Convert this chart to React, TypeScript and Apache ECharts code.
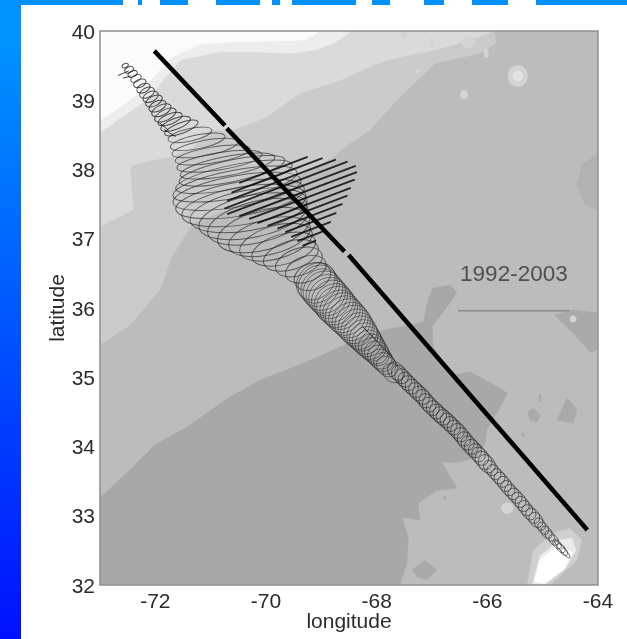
import React, { useEffect, useRef } from "react";
import * as echarts from "echarts";

const lonTicks = [-72, -70, -68, -66, -64];
const latTicks = [32, 33, 34, 35, 36, 37, 38, 39, 40];
const periodLabel = "1992-2003";

// Bathymetry contours, lon / lat, lightest at the top-left
const contourShelf = [[-73,40],[-65.88,40],[-65.84,39.83],[-66.13,39.68],[-66.93,39.54],[-67.58,39.05],[-68.12,38.57],[-68.48,38.38],[-68.79,38.18],[-70.02,37.63],[-71.32,37.23],[-71.55,36.94],[-71.73,36.69],[-71.92,36.26],[-72.46,35.75],[-73,35.47]];
const contourSlope = [[-73,40],[-65.88,40],[-66.31,39.87],[-66.93,39.73],[-67.43,39.65],[-67.94,39.55],[-68.66,39.29],[-69.39,39.10],[-69.98,38.76],[-70.60,38.57],[-71.01,38.57],[-71.32,38.32],[-71.73,38.18],[-72.22,38.11],[-72.46,38.04],[-72.40,37.42],[-72.96,37.20],[-73,37.18]];
const contourCoast = [[-73,40],[-68.45,40],[-68.74,39.84],[-69.10,39.73],[-69.53,39.68],[-70.25,39.70],[-70.83,39.70],[-71.55,39.58],[-71.83,39.32],[-72.10,39.03],[-72.64,38.74],[-73,38.53]];
const contourLand = [[-73,40],[-69.02,40],[-69.30,39.87],[-70.65,39.84],[-71.19,39.81],[-71.73,39.61],[-71.95,39.41],[-72.22,39.15],[-72.64,38.90],[-73,38.71]];
const contourDeep = [[-73,33.26],[-72.46,33.66],[-72.01,34.02],[-71.37,34.31],[-70.74,34.67],[-70.11,34.96],[-69.39,35.18],[-68.79,35.39],[-68.48,35.51],[-67.89,35.68],[-67.40,35.75],[-67.16,35.80],[-67.07,36.12],[-66.98,36.29],[-66.67,36.33],[-66.55,36.22],[-66.73,36.01],[-67.00,35.73],[-66.98,35.44],[-66.62,35.03],[-66.31,35.08],[-65.95,34.92],[-65.63,34.77],[-65.83,34.48],[-66.01,34.24],[-66.04,34.05],[-66.19,33.85],[-66.55,33.76],[-66.82,33.78],[-66.67,33.56],[-66.55,33.40],[-66.91,33.37],[-67.25,33.18],[-67.22,32.94],[-67.54,32.98],[-67.43,32.69],[-67.45,32.32],[-67.58,32],[-73,32]];
const patchEast = [[-64.78,35.90],[-64.45,35.97],[-64.02,35.93],[-64.02,35.39],[-64.14,35.36],[-64.38,35.58],[-64.63,35.78]];
const patchMid = [[-64.74,34.38],[-64.56,34.71],[-64.38,34.53],[-64.45,34.34]];
const patchSmall = [[-65.27,34.50],[-65.17,34.56],[-65.05,34.45],[-65.10,34.35],[-65.23,34.38]];
const patchSouth = [[-67.36,32.22],[-67.13,32.36],[-66.91,32.22],[-67.09,32.07],[-67.27,32.12]];
const patchNorthEast = [[-64.02,38.21],[-64.29,38.07],[-64.38,37.78],[-64.24,37.49],[-64.02,37.42]];
const bermudaOuter = [[-65.28,32],[-65.17,32.50],[-64.81,32.75],[-64.51,32.82],[-64.29,32.65],[-64.38,32.36],[-64.63,32.17],[-64.87,32]];
const bermudaMid = [[-65.19,32],[-65.05,32.42],[-64.69,32.65],[-64.47,32.68],[-64.40,32.50],[-64.58,32.25],[-64.96,32]];
const bermudaInner = [[-65.15,32.05],[-65.05,32.36],[-64.72,32.58],[-64.46,32.47],[-64.62,32.22],[-64.98,32.02]];

// Seamount spots: lon, lat, radius in lon, radius in lat
const spotsMid = [[-65.45,39.35,0.18,0.16],[-66.35,39.84,0.11,0.09],[-67.00,39.84,0.05,0.07],[-67.51,39.94,0.05,0.05],[-66.02,39.68,0.045,0.07],[-66.42,39.08,0.07,0.07],[-67.25,39.41,0.035,0.03],[-65.64,33.11,0.11,0.08],[-64.45,35.84,0.06,0.05]];
const spotsPale = [[-65.45,39.35,0.09,0.08]];
const spotsDark = [[-65.05,34.70,0.03,0.06],[-66.77,33.26,0.03,0.03],[-65.36,34.17,0.03,0.03]];

// Track loops: major-axis ends (lon, lat, lon, lat) and minor / major ratio
const loopsNarrow = [
  [-72.60,39.48,-72.49,39.52,0.6],[-72.55,39.41,-72.40,39.47,0.6],[-72.49,39.35,-72.33,39.41,0.6],
  [-72.44,39.28,-72.26,39.35,0.6],[-72.39,39.21,-72.17,39.28,0.6],[-72.33,39.13,-72.10,39.22,0.6],
  [-72.28,39.06,-72.02,39.16,0.6],[-72.22,39.00,-71.95,39.10,0.6],[-72.17,38.93,-71.88,39.05,0.55],
  [-72.11,38.86,-71.81,38.97,0.55],[-72.06,38.79,-71.72,38.92,0.5],[-72.01,38.71,-71.63,38.86,0.45],
  [-71.95,38.66,-71.52,38.80,0.4],[-71.90,38.58,-71.37,38.74,0.35],[-71.83,38.51,-71.23,38.69,0.3],
];
const loopsWide = [
  [-71.77,38.43,-70.98,38.57,0.28],[-71.73,38.32,-70.74,38.48,0.25],[-71.70,38.22,-70.51,38.40,0.23],
  [-71.64,38.12,-70.29,38.30,0.21],[-71.61,38.02,-70.07,38.22,0.2],[-71.55,37.92,-69.84,38.18,0.2],
  [-71.57,37.82,-69.66,38.14,0.2],[-71.63,37.72,-69.53,38.07,0.2],[-71.68,37.62,-69.44,37.96,0.22],
  [-71.68,37.52,-69.37,37.85,0.24],[-71.63,37.42,-69.31,37.73,0.26],[-71.52,37.33,-69.28,37.63,0.3],
  [-71.37,37.26,-69.26,37.56,0.34],[-71.21,37.16,-69.26,37.49,0.38],[-71.05,37.07,-69.24,37.42,0.4],
  [-70.87,36.95,-69.22,37.30,0.42],[-70.67,36.88,-69.20,37.18,0.42],[-70.47,36.80,-69.17,37.10,0.44],
  [-70.25,36.72,-69.11,36.98,0.46],[-70.04,36.64,-69.06,36.88,0.5],[-69.82,36.55,-68.99,36.78,0.55],
  [-69.64,36.46,-68.92,36.66,0.6],[-69.48,36.36,-68.84,36.55,0.7],
];
const loopsBulge = [
  [-69.39,36.19,-68.81,36.58,0.8],[-69.35,36.15,-68.78,36.54,0.85],[-69.30,36.10,-68.74,36.49,0.85],
  [-69.25,36.05,-68.69,36.45,0.9],[-69.20,36.01,-68.64,36.40,0.9],[-69.15,35.97,-68.60,36.36,0.9],
  [-69.10,35.93,-68.55,36.32,0.9],[-69.05,35.88,-68.50,36.27,0.9],[-69.01,35.84,-68.46,36.23,0.9],
  [-68.95,35.80,-68.42,36.18,0.9],[-68.90,35.77,-68.37,36.14,0.9],[-68.85,35.72,-68.33,36.10,0.9],
  [-68.79,35.68,-68.28,36.06,0.9],[-68.73,35.64,-68.23,36.01,0.9],[-68.68,35.60,-68.19,35.97,0.9],
  [-68.62,35.55,-68.15,35.92,0.9],[-68.57,35.51,-68.12,35.87,0.9],[-68.51,35.47,-68.08,35.82,0.95],
  [-68.46,35.44,-68.05,35.77,0.95],[-68.41,35.40,-68.01,35.72,1],[-68.36,35.36,-67.98,35.67,1],
  [-68.30,35.32,-67.95,35.62,1.05],[-68.25,35.29,-67.92,35.57,1.05],[-68.19,35.25,-67.88,35.52,1.1],
  [-68.14,35.22,-67.85,35.47,1.1],[-68.08,35.17,-67.81,35.41,1.15],[-68.03,35.13,-67.78,35.36,1.15],
  [-67.97,35.09,-67.74,35.31,1.2],[-67.92,35.05,-67.70,35.26,1.2],[-67.80,34.96,-67.61,35.16,1.25],
];
// Tail loops: centre lon, centre lat, half extent in lon, half extent in lat, ratio
const loopsTail = [
  [-67.65,35.09,0.11,0.065,1.3],[-67.58,35.04,0.11,0.065,1.3],[-67.52,34.99,0.11,0.065,1.3],[-67.46,34.94,0.11,0.065,1.3],
  [-67.40,34.89,0.11,0.065,1.3],[-67.33,34.84,0.11,0.065,1.3],[-67.27,34.79,0.11,0.065,1.3],[-67.20,34.74,0.11,0.065,1.3],
  [-67.14,34.69,0.11,0.065,1.3],[-67.08,34.63,0.11,0.065,1.3],[-67.02,34.58,0.11,0.065,1.3],[-66.95,34.53,0.11,0.065,1.3],
  [-66.89,34.48,0.11,0.065,1.3],[-66.83,34.44,0.11,0.065,1.3],[-66.77,34.40,0.11,0.065,1.3],[-66.70,34.35,0.11,0.065,1.3],
  [-66.64,34.30,0.11,0.065,1.3],[-66.57,34.25,0.11,0.065,1.3],[-66.51,34.20,0.11,0.065,1.3],[-66.45,34.14,0.11,0.065,1.3],
  [-66.39,34.08,0.11,0.065,1.3],[-66.32,34.02,0.11,0.065,1.3],[-66.26,33.97,0.11,0.065,1.3],[-66.19,33.91,0.11,0.065,1.3],
  [-66.13,33.86,0.11,0.065,1.3],[-66.07,33.80,0.11,0.065,1.3],[-66.01,33.75,0.11,0.065,1.3],[-65.94,33.69,0.09,0.055,1.3],
  [-65.88,33.63,0.09,0.055,1.3],[-65.81,33.57,0.09,0.055,1.3],[-65.75,33.52,0.09,0.055,1.3],[-65.69,33.46,0.09,0.055,1.3],
  [-65.63,33.40,0.09,0.055,1.3],[-65.56,33.34,0.09,0.055,1.3],[-65.50,33.29,0.09,0.055,1.3],[-65.43,33.23,0.09,0.055,1.3],
  [-65.37,33.17,0.09,0.055,1.3],[-65.31,33.11,0.09,0.055,1.3],[-65.25,33.05,0.09,0.055,1.3],[-65.18,33.00,0.09,0.055,1.3],
  [-65.12,32.94,0.09,0.055,1.3],[-65.05,32.88,0.07,0.04,1.4],[-64.99,32.82,0.07,0.04,1.4],[-64.93,32.76,0.07,0.04,1.4],
  [-64.87,32.71,0.06,0.035,1.4],[-64.80,32.65,0.06,0.035,1.4],[-64.74,32.59,0.05,0.03,1.5],[-64.67,32.53,0.05,0.03,1.5],
  [-64.61,32.48,0.04,0.025,1.5],
];
const loopTip = [[-64.78,32.64,-64.51,32.39,0.2]];

// Straight track passes: lon, lat, lon, lat
const hatchPasses = [
  [-70.47,37.81,-69.26,38.18],[-70.61,37.67,-68.99,38.16],[-70.69,37.55,-68.75,38.14],[-70.74,37.44,-68.54,38.11],
  [-70.69,37.36,-68.39,38.05],[-70.47,37.33,-68.37,37.96],[-70.29,37.29,-68.41,37.85],[-70.14,37.23,-68.48,37.73],
  [-69.96,37.19,-68.54,37.62],[-69.78,37.15,-68.63,37.50],[-69.64,37.10,-68.74,37.37],[-69.53,37.03,-68.84,37.24],
  [-69.42,36.97,-68.99,37.10],[-69.33,36.90,-69.11,36.97],
];
const barbs = [
  [-72.67,39.36,-72.49,39.42],[-72.58,39.32,-72.44,39.35],[-71.92,38.67,-71.77,38.57],[-71.83,38.57,-71.64,38.48],
  [-68.25,35.73,-67.72,35.29],
];

// Thick section line, broken in two places
const sectionNorth = [[-71.99,39.69],[-70.77,38.66]];
const sectionMiddle = [[-70.68,38.57],[-68.61,36.84]];
const sectionSouth = [[-68.48,36.74],[-64.22,32.82]];
const legendRule = [[-66.53,35.96],[-64.52,35.96]];
const legendAnchor = [[-65.52,36.5]];

// Remains of the slide title cut off by the frame: start, width
const titleRemnants = [[123,15],[142,18],[188,28],[260,12],[280,12],[356,16],[390,34],[444,28],[508,28]];

const fontFamily = "'Liberation Sans', Arial, sans-serif";

const polygonSeries = (points: number[][], fill: string) => ({
  type: "custom",
  silent: true,
  clip: true,
  data: points,
  encode: { x: 0, y: 1 },
  renderItem: (params: any, api: any) => {
    if (params.dataIndex !== 0) return null;
    return {
      type: "polygon",
      shape: { points: points.map((p) => api.coord(p)) },
      style: { fill, stroke: fill, lineWidth: 0.5 },
    };
  },
});

const spotSeries = (rows: number[][], fill: string) => ({
  type: "custom",
  silent: true,
  data: rows,
  encode: { x: 0, y: 1 },
  renderItem: (_: any, api: any) => {
    const c = api.coord([api.value(0), api.value(1)]);
    const e = api.coord([api.value(0) + api.value(2), api.value(1) + api.value(3)]);
    return {
      type: "ellipse",
      shape: { cx: c[0], cy: c[1], rx: Math.abs(e[0] - c[0]), ry: Math.abs(e[1] - c[1]) },
      style: { fill },
    };
  },
});

const ellipseBetween = (a: number[], b: number[], ratio: number, stroke: string, lineWidth: number) => {
  const dx = b[0] - a[0];
  const dy = b[1] - a[1];
  const rx = Math.hypot(dx, dy) / 2;
  return {
    type: "ellipse",
    x: (a[0] + b[0]) / 2,
    y: (a[1] + b[1]) / 2,
    rotation: -Math.atan2(dy, dx),
    shape: { cx: 0, cy: 0, rx, ry: rx * ratio },
    style: { fill: "none", stroke, lineWidth },
  };
};

const loopSeries = (rows: number[][], stroke: string, lineWidth: number) => ({
  type: "custom",
  silent: true,
  data: rows,
  encode: { x: [0, 2], y: [1, 3] },
  renderItem: (_: any, api: any) => {
    const a = api.coord([api.value(0), api.value(1)]);
    const b = api.coord([api.value(2), api.value(3)]);
    return ellipseBetween(a, b, api.value(4), stroke, lineWidth);
  },
});

const centredLoopSeries = (rows: number[][], stroke: string, lineWidth: number) => ({
  type: "custom",
  silent: true,
  data: rows,
  encode: { x: 0, y: 1 },
  renderItem: (_: any, api: any) => {
    const a = api.coord([api.value(0) - api.value(2), api.value(1) - api.value(3)]);
    const b = api.coord([api.value(0) + api.value(2), api.value(1) + api.value(3)]);
    return ellipseBetween(a, b, api.value(4), stroke, lineWidth);
  },
});

const segmentSeries = (rows: number[][], stroke: string, lineWidth: number) => ({
  type: "custom",
  silent: true,
  data: rows,
  encode: { x: [0, 2], y: [1, 3] },
  renderItem: (_: any, api: any) => {
    const a = api.coord([api.value(0), api.value(1)]);
    const b = api.coord([api.value(2), api.value(3)]);
    return {
      type: "line",
      shape: { x1: a[0], y1: a[1], x2: b[0], y2: b[1] },
      style: { stroke, lineWidth, lineCap: "round" },
    };
  },
});

const pathLine = (points: number[][], color: string, width: number, cap = "butt") => ({
  type: "line",
  data: points,
  symbol: "none",
  silent: true,
  lineStyle: { color, width, cap },
  z: 6,
});

export default function App() {
  const ref = useRef<HTMLDivElement>(null);
  useEffect(() => {
    document.body.style.margin = "0";
    const chart = echarts.init(ref.current!, undefined, { renderer: "svg" });
    const labelStyle = { fontFamily, fontSize: 21, color: "#2b2b2b" };
    chart.setOption({
      animation: false,
      backgroundColor: "transparent",
      grid: { left: 100, top: 31, width: 498, height: 554, show: false },
      xAxis: {
        type: "value",
        min: -73,
        max: -64,
        name: "longitude",
        nameLocation: "middle",
        nameGap: 25,
        nameMoveOverlap: false,
        nameTextStyle: { ...labelStyle },
        axisLine: { show: false },
        axisTick: { show: false },
        splitLine: { show: false },
        axisLabel: { ...labelStyle, margin: 5, customValues: lonTicks, formatter: (v: number) => String(v) },
      },
      yAxis: {
        type: "value",
        min: 32,
        max: 40,
        interval: 1,
        name: "latitude",
        nameLocation: "middle",
        nameGap: 33,
        nameMoveOverlap: false,
        nameRotate: 90,
        nameTextStyle: { ...labelStyle },
        axisLine: { show: false },
        axisTick: { show: false },
        splitLine: { show: false },
        axisLabel: { ...labelStyle, margin: 5, customValues: latTicks, formatter: (v: number) => String(v) },
      },
      graphic: [
        { type: "rect", z: 50, silent: true, shape: { x: 100, y: 31, width: 498, height: 554 }, style: { fill: "none", stroke: "#8f8f8f", lineWidth: 1.5 } },
      ],
      series: [
        polygonSeries([[-73, 40], [-64, 40], [-64, 32], [-73, 32]], "#bcbcbc"),
        polygonSeries(contourShelf, "#cbcbcb"),
        polygonSeries(contourSlope, "#dadada"),
        polygonSeries(contourCoast, "#ededed"),
        polygonSeries(contourLand, "#fbfbfb"),
        polygonSeries(contourDeep, "#a8a8a8"),
        polygonSeries(patchEast, "#aaaaaa"),
        polygonSeries(patchMid, "#aaaaaa"),
        polygonSeries(patchSmall, "#aaaaaa"),
        polygonSeries(patchSouth, "#aaaaaa"),
        polygonSeries(patchNorthEast, "#b2b2b2"),
        polygonSeries(bermudaOuter, "#cfcfcf"),
        polygonSeries(bermudaMid, "#eaeaea"),
        polygonSeries(bermudaInner, "#ffffff"),
        spotSeries(spotsMid, "#d4d4d4"),
        spotSeries(spotsPale, "#e2e2e2"),
        spotSeries(spotsDark, "#ababab"),
        loopSeries(loopsNarrow, "rgba(25,25,25,0.75)", 1),
        loopSeries(loopsWide, "rgba(25,25,25,0.62)", 0.95),
        loopSeries(loopsBulge, "rgba(25,25,25,0.55)", 0.85),
        centredLoopSeries(loopsTail, "rgba(15,15,15,0.62)", 0.8),
        loopSeries(loopTip, "rgba(15,15,15,0.7)", 0.8),
        segmentSeries(hatchPasses, "rgba(10,10,10,0.85)", 1.9),
        segmentSeries(barbs, "rgba(20,20,20,0.8)", 1),
        pathLine(sectionNorth, "#000", 4.5, "square"),
        pathLine(sectionMiddle, "#000", 4.5, "square"),
        pathLine(sectionSouth, "#000", 4.5, "square"),
        pathLine(legendRule, "#8a8a8a", 1.5),
        {
          type: "scatter",
          data: legendAnchor,
          symbolSize: 0,
          silent: true,
          z: 7,
          label: {
            show: true,
            position: "inside",
            formatter: periodLabel,
            fontFamily,
            fontSize: 22.5,
            color: "#333",
          },
        },
      ],
    });
    return () => chart.dispose();
  }, []);

  return (
    <div style={{ position: "absolute", left: 0, top: 0, width: 627, height: 639, overflow: "hidden", background: "#0090ff" }}>
      <div style={{ position: "absolute", left: 0, top: 0, width: 21, height: 639, background: "linear-gradient(#0090ff 0%, #0090ff 8%, #0010ff 100%)" }} />
      <div style={{ position: "absolute", left: 21, top: 5, width: 606, height: 634, background: "#fff" }} />
      {titleRemnants.map(([x, w]) => (
        <div key={x} style={{ position: "absolute", left: x, top: 0, width: w, height: 5, background: "#fff" }} />
      ))}
      <div ref={ref} style={{ position: "absolute", left: 0, top: 0, width: 627, height: 639, filter: "blur(0.45px)" }} />
    </div>
  );
}
